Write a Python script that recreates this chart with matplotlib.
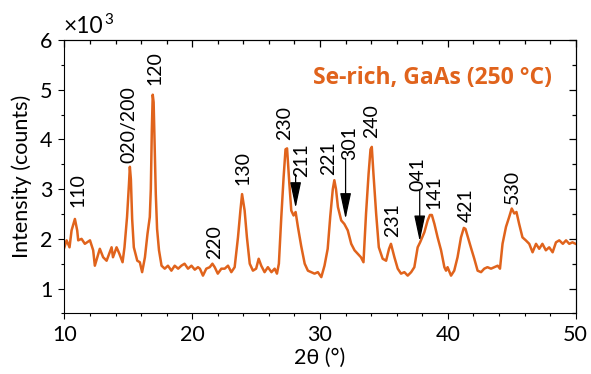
import matplotlib
matplotlib.use("Agg")
import matplotlib.pyplot as plt
from matplotlib.ticker import MultipleLocator

plt.rcParams['font.family'] = ['Lato', 'DejaVu Sans']

# XRD pattern (2theta in degrees, intensity in 10^3 counts)
two_theta = [
    10.0, 10.17, 10.4, 10.56, 10.82, 11.0, 11.08, 11.34, 11.6, 12.0, 12.25, 12.38,
    12.77, 13.03, 13.3, 13.69, 13.8, 14.08, 14.3, 14.55, 14.7, 14.9, 15.05, 15.12,
    15.2, 15.3, 15.43, 15.7, 15.9, 16.08, 16.3, 16.5, 16.68, 16.76, 16.84, 16.91,
    16.98, 17.06, 17.15, 17.25, 17.4, 17.6, 17.85, 18.1, 18.37, 18.63, 18.9, 19.15,
    19.4, 19.67, 19.94, 20.2, 20.45, 20.6, 20.84, 21.1, 21.37, 21.58, 21.76, 22.0,
    22.28, 22.54, 22.8, 23.06, 23.32, 23.58, 23.77, 23.9, 24.1, 24.28, 24.5, 24.75,
    25.0, 25.2, 25.4, 25.66, 25.92, 26.2, 26.45, 26.63, 26.78, 26.97, 27.15, 27.3,
    27.42, 27.6, 27.75, 27.93, 28.09, 28.27, 28.53, 28.8, 29.05, 29.3, 29.57, 29.83,
    30.1, 30.35, 30.6, 30.8, 31.0, 31.12, 31.25, 31.4, 31.66, 31.9, 32.17, 32.44,
    32.7, 32.95, 33.2, 33.4, 33.6, 33.8, 33.95, 34.05, 34.18, 34.39, 34.6, 34.9,
    35.17, 35.4, 35.55, 35.82, 36.08, 36.34, 36.6, 36.86, 37.13, 37.38, 37.64, 37.83,
    38.16, 38.42, 38.6, 38.75, 38.95, 39.2, 39.47, 39.73, 39.86, 39.98, 40.25, 40.5,
    40.76, 41.03, 41.25, 41.38, 41.55, 41.8, 42.07, 42.33, 42.6, 42.85, 43.1, 43.38,
    43.63, 43.9, 44.08, 44.28, 44.55, 44.8, 45.0, 45.2, 45.37, 45.58, 45.84, 46.1,
    46.37, 46.63, 46.9, 47.15, 47.4, 47.67, 47.93, 48.2, 48.46, 48.72, 49.0, 49.25,
    49.5, 49.75, 50.0,
]
intensity = [
    1.83, 1.97, 1.83, 2.17, 2.40, 2.17, 1.97, 2.00, 1.90, 1.97, 1.77, 1.46,
    1.80, 1.63, 1.56, 1.83, 1.63, 1.83, 1.70, 1.53, 1.83, 2.44, 3.10, 3.45,
    3.20, 2.40, 1.83, 1.56, 1.53, 1.33, 1.63, 2.10, 2.44, 3.00, 4.20, 4.90,
    4.75, 3.90, 2.90, 2.20, 1.77, 1.46, 1.40, 1.46, 1.36, 1.46, 1.40, 1.46,
    1.50, 1.40, 1.46, 1.38, 1.43, 1.40, 1.26, 1.40, 1.43, 1.50, 1.43, 1.30,
    1.40, 1.40, 1.46, 1.33, 1.43, 2.03, 2.57, 2.90, 2.57, 2.03, 1.50, 1.36,
    1.40, 1.60, 1.46, 1.33, 1.43, 1.33, 1.40, 1.30, 1.50, 2.44, 3.24, 3.80,
    3.82, 3.11, 2.57, 2.47, 2.54, 2.24, 1.85, 1.50, 1.36, 1.33, 1.30, 1.33,
    1.23, 1.46, 1.80, 2.45, 3.00, 3.18, 3.00, 2.64, 2.37, 2.30, 2.17, 1.90,
    1.77, 1.70, 1.63, 1.53, 2.51, 3.31, 3.80, 3.85, 3.31, 2.51, 1.83, 1.60,
    1.56, 1.80, 1.90, 1.63, 1.40, 1.30, 1.33, 1.26, 1.33, 1.43, 1.83, 1.93,
    2.13, 2.37, 2.48, 2.48, 2.30, 2.03, 1.77, 1.43, 1.36, 1.43, 1.26, 1.36,
    1.63, 2.03, 2.22, 2.20, 2.05, 1.83, 1.60, 1.36, 1.33, 1.40, 1.43, 1.40,
    1.43, 1.46, 1.40, 1.90, 2.24, 2.44, 2.61, 2.51, 2.54, 2.30, 2.03, 1.97,
    1.90, 1.73, 1.90, 1.80, 1.90, 1.77, 1.83, 1.73, 1.93, 1.97, 1.90, 1.97,
    1.90, 1.93, 1.90,
]

# peak labels: text, x centre, y of the text's lower end
peak_names = ['110', '020/200', '120', '220', '130', '230', '211', '221',
              '301', '240', '231', '041', '141', '421', '530']
peak_x = [11.07, 15.01, 17.07, 21.76, 23.97, 27.2, 28.53, 30.66,
          32.35, 34.0, 35.69, 37.62, 38.94, 41.42, 45.06]
peak_y = [2.64, 3.52, 5.09, 1.60, 3.08, 3.98, 3.24, 3.28,
          3.58, 4.02, 2.03, 2.97, 2.61, 2.34, 2.71]

# arrows for the shoulder peaks: x, start y, tip y
arrow_x = [28.09, 32.0, 37.8]
arrow_top = [3.30, 3.62, 2.97]
arrow_tip = [2.62, 2.40, 1.95]

orange = '#e0631c'

fig = plt.figure(figsize=(5.91, 3.74), dpi=100)
ax = fig.add_axes([0.109, 0.162, 0.865, 0.731])

ax.plot(two_theta, intensity, color=orange, lw=1.8)

for name, x, y in zip(peak_names, peak_x, peak_y):
    ax.text(x, y, name, rotation=90, ha='center', va='bottom', fontsize=14)

for x, y0, y1 in zip(arrow_x, arrow_top, arrow_tip):
    ax.annotate('', xy=(x, y1), xytext=(x, y0),
                arrowprops=dict(arrowstyle='-|>,head_length=0.8,head_width=0.17',
                                mutation_scale=20, color='black', lw=0.9,
                                shrinkA=0, shrinkB=0))

ax.text(0.954, 0.861, 'Se-rich, GaAs (250 °C)', transform=ax.transAxes,
        ha='right', va='center', fontsize=16.5, fontweight='bold', color=orange,
        family=['Open Sans', 'DejaVu Sans'])

ax.set_xlim(10, 50)
ax.set_ylim(0.5, 6)
ax.xaxis.set_major_locator(MultipleLocator(10))
ax.xaxis.set_minor_locator(MultipleLocator(2))
ax.yaxis.set_major_locator(MultipleLocator(1))
ax.yaxis.set_minor_locator(MultipleLocator(0.5))
ax.tick_params(which='both', direction='out', labelsize=15.5, width=0.8, pad=4)
ax.tick_params(which='major', length=4.5)
ax.tick_params(which='minor', length=2.5)

# mirrored ticks pointing inwards on top and right
sec_x = ax.secondary_xaxis('top')
sec_x.xaxis.set_major_locator(MultipleLocator(10))
sec_x.xaxis.set_minor_locator(MultipleLocator(2))
sec_x.tick_params(which='both', direction='in', width=0.9, labeltop=False,
                  color='black')
sec_y = ax.secondary_yaxis('right')
sec_y.yaxis.set_major_locator(MultipleLocator(1))
sec_y.yaxis.set_minor_locator(MultipleLocator(0.5))
sec_y.tick_params(which='both', direction='in', width=0.9, labelright=False,
                  color='black')
for sec in (sec_x, sec_y):
    sec.tick_params(which='major', length=5)
    sec.tick_params(which='minor', length=3)
    for s in sec.spines.values():
        s.set_linewidth(0.8)

ax.set_xlabel('2θ (°)', fontsize=15.5, labelpad=2)
ax.set_ylabel('Intensity (counts)', fontsize=15.5, labelpad=6)
for s in ax.spines.values():
    s.set_linewidth(0.8)

fig.text(0.108, 0.911, '×10', fontsize=16.5, va='baseline', ha='left')
fig.text(0.176, 0.935, '3', fontsize=11, va='baseline', ha='left')

fig.savefig('out.png', dpi=100)
